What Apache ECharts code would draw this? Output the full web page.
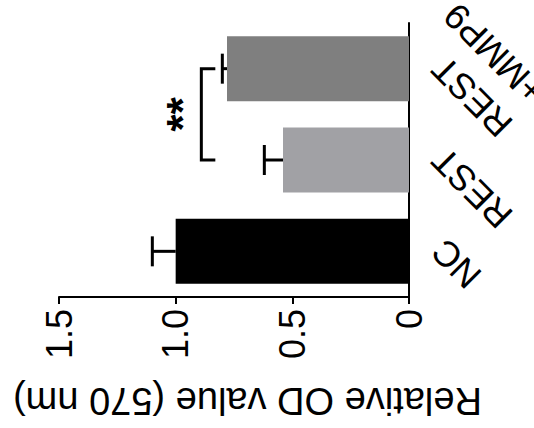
<!DOCTYPE html>
<html>
<head>
<meta charset="utf-8">
<script src="https://cdn.jsdelivr.net/npm/echarts@6/dist/echarts.min.js"></script>
<style>
html,body{margin:0;padding:0;width:534px;height:428px;overflow:hidden;background:#fff;}
#chart{position:absolute;left:0;top:0;width:428px;height:534px;transform-origin:0 0;transform:translate(0,428px) rotate(-90deg);}
</style>
</head>
<body>
<div id="chart"></div>
<script>
// Data
var categories = ['NC', 'REST', 'REST\n+MMP9'];
var means = [1.00, 0.54, 0.78];
var errors = [0.10, 0.08, 0.02];
var barColors = ['#000000', '#a1a1a5', '#7f7f7f'];
var yTicks = [0, 0.5, 1.0, 1.5];
var sigPair = [1, 2];
var sigTop = 0.89;
var sigArmBottom = 0.83;
var sigLabelValue = 0.97;
var sigLabel = '**';

var font = 'Liberation Sans, Arial, sans-serif';
var labelFontSize = 36;
var labelLineHeight = 46;
var chart = echarts.init(document.getElementById('chart'), null, {renderer: 'svg'});

var measureCtx = document.createElement('canvas').getContext('2d');
measureCtx.font = labelFontSize + 'px ' + font;
function textWidth(s) { return measureCtx.measureText(s).width; }

var errData = means.map(function (m, i) { return [i, m, m + errors[i]]; });

chart.setOption({
  animation: false,
  grid: {left: 123, top: 59, width: 282, height: 350, containLabel: false},
  xAxis: {
    type: 'category',
    data: categories,
    axisLine: {lineStyle: {color: '#000', width: 2}},
    axisTick: {alignWithLabel: true, length: 6, lineStyle: {color: '#000', width: 2}},
    axisLabel: {show: false}
  },
  yAxis: {
    type: 'value',
    min: yTicks[0], max: yTicks[yTicks.length - 1], interval: yTicks[1] - yTicks[0],
    name: 'Relative OD value (570 nm)',
    nameLocation: 'middle',
    nameGap: 85,
    nameTextStyle: {color: '#000', fontSize: 38, fontFamily: font, padding: [0, 27, 0, 0]},
    splitLine: {show: false},
    axisLine: {show: true, lineStyle: {color: '#000', width: 2}},
    axisTick: {show: true, length: 7, lineStyle: {color: '#000', width: 2}},
    axisLabel: {color: '#000', fontSize: 36, fontFamily: font, margin: 12,
      formatter: function (v) { return v === 0 ? '0' : v.toFixed(1); }}
  },
  series: [
    {
      type: 'bar',
      barWidth: 65,
      data: means.map(function (m, i) { return {value: m, itemStyle: {color: barColors[i]}}; })
    },
    {
      type: 'custom',
      data: errData,
      renderItem: function (params, api) {
        var x = api.value(0);
        var top = api.coord([x, api.value(2)]);
        var base = api.coord([x, api.value(1)]);
        var cap = 15;
        var st = {stroke: '#000', lineWidth: 3};
        return {type: 'group', children: [
          {type: 'line', shape: {x1: top[0], y1: base[1], x2: top[0], y2: top[1]}, style: st},
          {type: 'line', shape: {x1: top[0] - cap, y1: top[1], x2: top[0] + cap, y2: top[1]}, style: st}
        ]};
      },
      z: 5
    },
    {
      type: 'custom',
      data: [[sigPair[0], sigPair[1], sigTop, sigArmBottom, sigLabelValue]],
      renderItem: function (params, api) {
        var a = api.coord([api.value(0), api.value(2)]);
        var b = api.coord([api.value(1), api.value(2)]);
        var a2 = api.coord([api.value(0), api.value(3)]);
        var lab = api.coord([api.value(0), api.value(4)]);
        var st = {stroke: '#000', lineWidth: 3, fill: null};
        return {type: 'group', children: [
          {type: 'polyline', shape: {points: [[a[0], a2[1]], [a[0], a[1]], [b[0], b[1]], [b[0], a2[1]]]}, style: st},
          {type: 'text', x: (a[0] + b[0]) / 2, y: lab[1], style: {text: sigLabel, fill: '#000', font: 'bold 44px ' + font, align: 'center', verticalAlign: 'middle'}}
        ]};
      },
      z: 5
    },
    {
      // category labels, rotated 45 degrees, first line ending at the tick
      type: 'custom',
      data: categories.map(function (c, i) { return [i, 0]; }),
      clip: false,
      silent: true,
      renderItem: function (params, api) {
        var i = api.value(0);
        var p = api.coord([i, api.value(1)]);
        var text = categories[i];
        var w1 = textWidth(text.split('\n')[0]);
        return {
          type: 'text',
          x: p[0] + 6,
          y: p[1] + 29,
          rotation: Math.PI / 4,
          style: {
            text: text,
            x: -w1,
            y: -labelLineHeight / 2,
            align: 'left',
            verticalAlign: 'top',
            lineHeight: labelLineHeight,
            fill: '#000',
            font: labelFontSize + 'px ' + font
          }
        };
      },
      z: 5
    }
  ]
});
</script>
</body>
</html>
